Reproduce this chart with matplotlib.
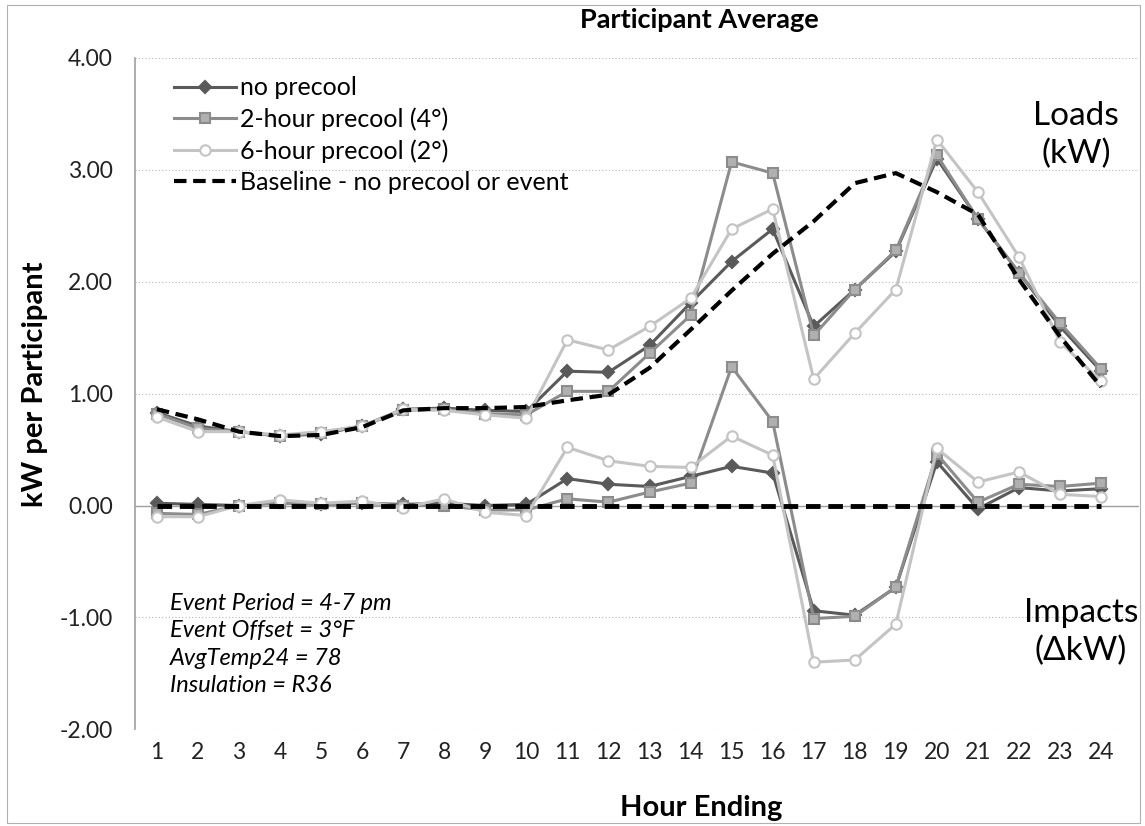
import matplotlib
matplotlib.use("Agg")
import matplotlib.pyplot as plt
from matplotlib.patches import Rectangle
import numpy as np

plt.rcParams['font.family'] = ['Lato', 'DejaVu Sans']

hours = list(range(1, 25))

# Loads (kW)
load_none = [0.83, 0.71, 0.66, 0.62, 0.64, 0.71, 0.86, 0.87, 0.85, 0.84,
             1.20, 1.19, 1.43, 1.81, 2.18, 2.47, 1.60, 1.93, 2.27, 3.10,
             2.56, 2.08, 1.60, 1.20]
load_2hr = [0.82, 0.69, 0.66, 0.62, 0.65, 0.71, 0.85, 0.86, 0.82, 0.81,
            1.02, 1.02, 1.36, 1.70, 3.07, 2.97, 1.52, 1.93, 2.28, 3.13,
            2.56, 2.08, 1.63, 1.22]
load_6hr = [0.79, 0.66, 0.66, 0.63, 0.66, 0.71, 0.86, 0.85, 0.81, 0.78,
            1.48, 1.39, 1.60, 1.85, 2.47, 2.65, 1.13, 1.54, 1.93, 3.27,
            2.80, 2.22, 1.46, 1.11]
load_base = [0.86, 0.77, 0.66, 0.62, 0.63, 0.70, 0.85, 0.87, 0.87, 0.88,
             0.94, 0.99, 1.23, 1.57, 1.92, 2.25, 2.54, 2.88, 2.97, 2.80,
             2.60, 2.02, 1.51, 1.06]

# Impacts (delta kW)
imp_none = [0.02, 0.01, 0.00, 0.03, 0.01, 0.02, 0.01, 0.02, 0.00, 0.01,
            0.24, 0.19, 0.17, 0.26, 0.35, 0.29, -0.94, -0.98, -0.73, 0.39,
            -0.03, 0.16, 0.13, 0.15]
imp_2hr = [-0.07, -0.08, 0.00, 0.02, 0.01, 0.02, 0.00, 0.00, -0.04, -0.04,
           0.06, 0.03, 0.12, 0.20, 1.24, 0.75, -1.01, -0.99, -0.73, 0.46,
           0.03, 0.19, 0.17, 0.20]
imp_6hr = [-0.10, -0.10, 0.00, 0.05, 0.02, 0.04, -0.02, 0.06, -0.06, -0.09,
           0.52, 0.40, 0.35, 0.34, 0.62, 0.45, -1.40, -1.38, -1.06, 0.51,
           0.21, 0.30, 0.10, 0.08]
imp_base = [0.0] * 24

fig = plt.figure(figsize=(11.45, 8.26), dpi=100)
ax = fig.add_axes([0.118, 0.117, 0.877, 0.813])

c_none = '#5a5a5a'
c_2hr = '#8c8c8c'
c_6hr = '#c4c4c4'

for load, imp, color, mk, mfc, lab in [
        (load_none, imp_none, c_none, 'D', c_none, 'no precool'),
        (load_2hr, imp_2hr, c_2hr, 's', '#b0b0b0', '2-hour precool (4°)'),
        (load_6hr, imp_6hr, c_6hr, 'o', 'white', '6-hour precool (2°)')]:
    ms = 6 if mk == 'D' else 7.5
    ax.plot(hours, load, color=color, lw=2.2, marker=mk, ms=ms,
            mfc=mfc, mec=color, mew=1.5, label=lab, zorder=3)
    ax.plot(hours, imp, color=color, lw=2.2, marker=mk, ms=ms,
            mfc=mfc, mec=color, mew=1.5, zorder=3)

ax.plot(hours, load_base, color='black', lw=3, ls=(0, (3, 1.6)),
        label='Baseline - no precool or event', zorder=5)
ax.plot(hours, imp_base, color='black', lw=3.5, ls=(0, (3, 1.6)), zorder=5)

ax.set_xlim(0.47, 24.93)
ax.set_ylim(-2, 4)
yt = np.arange(-2, 4.01, 1)
ax.set_yticks(yt)
ax.set_yticklabels([f"{v:.2f}" for v in yt])
ax.set_xticks(hours)
ax.tick_params(axis='both', length=0, labelsize=16.5, colors='#222222')
ax.tick_params(axis='x', pad=9)
ax.tick_params(axis='y', pad=16)

ax.grid(axis='y', ls=(0, (1, 2)), color='#b8b8b8', lw=0.8)
ax.set_axisbelow(True)
for s in ['top', 'right', 'bottom']:
    ax.spines[s].set_visible(False)
ax.spines['left'].set_color('#a0a0a0')
ax.spines['left'].set_linewidth(1.2)
ax.axhline(0, color='#a0a0a0', lw=1, zorder=1)

fig.text(0.031, 0.535, 'kW per Participant', rotation=90, ha='center',
         va='center', fontsize=21, fontweight='bold')
fig.text(0.612, 0.022, 'Hour Ending', ha='center', va='center',
         fontsize=21, fontweight='bold')
fig.text(0.611, 0.976, 'Participant Average', ha='center', va='center',
         fontsize=19.5, fontweight='bold')

leg = ax.legend(loc='upper left', bbox_to_anchor=(0.016, 1.006), frameon=False,
                fontsize=18, handlelength=2.5, handletextpad=0.15,
                labelspacing=0.33)

ax.text(0.937, 0.885, 'Loads\n(kW)', transform=ax.transAxes, ha='center',
        va='center', fontsize=24, linespacing=1.3)
ax.text(0.942, 0.145, 'Impacts\n(ΔkW)', transform=ax.transAxes, ha='center',
        va='center', fontsize=24, linespacing=1.3)
ax.text(0.035, 0.203, 'Event Period = 4-7 pm\nEvent Offset = 3°F\n'
        'AvgTemp24 = 78\nInsulation = R36', transform=ax.transAxes,
        ha='left', va='top', fontsize=17, style='italic', linespacing=1.38)

fig.patches.append(Rectangle((0.006, 0.004), 0.99, 0.99, transform=fig.transFigure,
                             fill=False, ec='#b0b0b0', lw=0.8))

fig.savefig('out.png', dpi=100)
